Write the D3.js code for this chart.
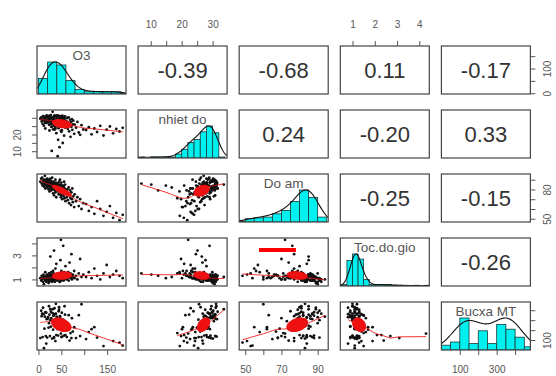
<!DOCTYPE html>
<html><head><meta charset="utf-8">
<script src="https://cdn.jsdelivr.net/npm/d3@7"></script>
<style>html,body{margin:0;padding:0;background:#fff;} svg{display:block;font-family:"Liberation Sans",Arial,sans-serif;}</style>
</head><body><svg id="c" width="556" height="376"></svg>
<script>
// ---- data (one row per observation) ----
const varNames = ["O3", "nhiet do", "Do am", "Toc.do.gio", "Bucxa MT"];
const o3 = [4,6,7,8,9,10,11,12,12,13,14,15,15,16,17,17,18,18,19,19,
 20,21,21,22,23,23,24,24,25,25,26,26,27,27,28,28,29,29,30,30,31,31,32,32,33,33,34,34,35,35,36,36,37,37,38,38,39,39,22,26,30,34,
 40,40,41,42,42,43,44,44,45,45,46,46,47,48,48,49,50,50,51,52,52,53,54,54,55,55,56,57,57,58,58,59,59,43,47,51,53,56,41,49,45,
 61,62,63,64,65,66,67,68,69,70,71,72,73,74,75,76,78,79,
 82,85,88,91,94,98,
 104,110,116,122,128,135,142,149,156,163,170,177,184];
const nhietDo = [29.5,30.2,27.8,28.9,26.4,31.0,29.1,25.3,30.6,28.2,27.1,29.8,23.6,30.9,28.4,26.9,30.4,31.4,27.6,28.8,
 30.9,30.3,27.2,28.6,31.2,25.8,29.7,22.4,28.1,30.8,26.5,29.4,31.6,27.9,24.7,29.9,24.6,10.2,30.1,26.2,28.7,33.6,23.1,29.2,27.4,30.5,25.1,28.9,31.4,22.9,30.7,27.0,23.5,24.3,31.1,26.8,29.0,20.8,30.0,28.0,27.5,29.5,
 28.4,30.6,25.7,29.1,7.0,27.3,31.0,23.8,31.2,26.1,30.2,12.4,29.4,27.7,24.9,30.8,28.2,21.6,29.8,26.6,31.3,27.9,29.0,25.4,30.4,28.6,19.3,29.6,27.1,30.9,24.2,28.0,26.3,16.8,30.0,22.6,14.9,29.3,31.5,22.1,27.6,
 28.1,25.5,29.9,23.4,27.2,30.3,21.9,26.7,28.8,18.6,27.4,24.6,29.2,22.8,26.0,28.3,20.4,25.9,
 24.1,27.5,21.2,19.8,25.6,23.0,
 22.7,24.4,20.1,23.6,21.5,25.2,19.4,22.9,24.8,20.7,23.3,21.8,24.0];
const doAm = [88,91,86,92,84,89,87,83,90,85,94,88,81,86,90,84,89,87,82,91,
 86,84,88,80,85,90,83,78,87,82,85,89,81,86,84,79,88,85,83,92,80,85,76,87,82,88,74,84,86,81,79,85,90,77,83,87,72,84,89,91,86,81,
 84,80,86,78,86,82,85,75,88,80,83,79,77,85,81,74,87,79,82,70,84,76,76,80,73,83,78,81,71,85,77,80,68,82,90,75,84,88,81,72,79,
 78,72,80,69,76,82,66,74,79,71,64,77,70,81,67,73,62,75,
 68,72,63,70,60,66,
 65,58,62,55,68,60,53,57,63,51,56,48.5,54];
const tocDoGio = [1.1,0.9,1.3,1.0,1.2,0.8,1.4,1.1,0.6,1.2,1.0,0.9,1.6,1.3,1.1,0.8,1.2,1.0,1.4,1.1,
 1.2,0.9,1.3,1.1,1.0,1.5,0.8,1.2,1.4,1.0,2.9,1.1,1.3,0.9,1.2,1.6,1.0,1.4,1.1,0.8,1.3,1.2,1.7,0.9,1.5,1.1,3.4,1.0,1.3,1.2,0.8,1.4,1.1,1.9,1.0,1.2,1.3,2.3,0.7,1.0,1.2,0.9,
 1.1,1.3,0.9,1.2,1.5,1.0,1.4,1.1,1.2,1.1,0.8,1.3,1.0,2.6,1.2,1.1,0.9,1.7,1.3,1.0,1.2,1.4,3.8,1.1,1.3,0.9,1.6,1.0,1.2,1.4,1.1,2.1,1.3,1.2,0.8,1.5,1.1,1.2,1.0,4.3,1.3,
 1.2,1.0,1.4,1.1,1.6,0.9,1.3,2.4,1.2,1.5,1.1,3.1,1.0,1.3,1.4,1.2,1.7,1.1,
 1.3,1.0,1.5,2.7,1.2,1.4,
 1.2,1.6,1.1,1.9,1.3,1.0,1.5,2.2,1.2,1.4,1.7,1.3,1.1];
const bucxaMT = [120,395,340,365,130,425,360,18,null,215,335,380,null,140,375,65,null,310,null,125,
 315,330,null,225,440,270,null,355,null,140,null,410,385,235,null,320,null,null,115,null,370,410,205,null,345,345,null,130,null,420,360,245,null,90,465,365,null,150,null,300,null,120,
 325,335,null,210,null,145,null,390,null,430,null,null,340,null,225,null,130,null,375,null,135,null,null,305,290,240,null,440,null,355,null,150,null,null,330,null,null,145,null,165,405,
 260,130,null,215,null,350,null,95,null,170,null,120,320,null,185,null,230,null,
 120,null,350,140,460,null,
 110,180,210,230,125,null,40,null,null,90,null,75,45];

// correlations printed in the upper panels (row by row)
const corrLabels = ["-0.39", "-0.68", "0.11", "-0.17", "0.24", "-0.20", "0.33", "-0.25", "-0.15", "-0.26"];

// histogram breaks
const o3Breaks = [0,20,40,60,80,100,120,140,160,180,200];
const nhietDoBreaks = [6,8,10,12,14,16,18,20,22,24,26,28,30,32,34];
const doAmBreaks = [45,50,55,60,65,70,75,80,85,90,95];
const tocDoGioBreaks = [0.5,0.75,1,1.25,1.5,1.75,2,2.25,2.5,2.75,3,3.25,3.5,3.75,4,4.25,4.5];
const bucxaBreaks = [0,50,100,150,200,250,300,350,400,450,500];

// axis ticks / labels
const o3Ticks = [0,50,100,150], o3BottomLabels = [0,50,150], o3RightLabels = [0,100];
const nhietDoTicks = [10,15,20,25,30], nhietDoTopLabels = [10,20,30], nhietDoLeftLabels = [10,20];
const doAmTicks = [50,60,70,80,90], doAmBottomLabels = [50,70,90], doAmRightLabels = [50,80];
const tocDoGioTicks = [1,2,3,4], tocDoGioTopLabels = [1,2,3,4], tocDoGioLeftLabels = [1,3];
const bucxaTicks = [100,200,300,400], bucxaBottomLabels = [100,300], bucxaRightLabels = [100];

// red highlight bar drawn in the Do am / Toc.do.gio panel (data units)
const markDoAm = [57.6, 78.0], markTocDoGio = [3.45];

// ---- layout ----
const PW = 89, PH = 48, X0 = 37, DX = 101.1, Y0 = 46, DY = 64;
const svg = d3.select("#c");
const vars = [o3, nhietDo, doAm, tocDoGio, bucxaMT];
const breaks = [o3Breaks, nhietDoBreaks, doAmBreaks, tocDoGioBreaks, bucxaBreaks];
const NV = vars.length;
const doms = vars.map(v => { const e = d3.extent(v.filter(d => d != null)); const p = (e[1]-e[0])*0.04; return [e[0]-p, e[1]+p]; });
const xs = doms.map((d,j) => d3.scaleLinear().domain(d).range([X0+j*DX, X0+j*DX+PW]));
const ys = doms.map((d,i) => d3.scaleLinear().domain(d).range([Y0+i*DY+PH, Y0+i*DY]));
const RED = "#ee1111";

const defs = svg.append("defs");
function clipFor(i,j){
  const id = `cp${i}_${j}`;
  defs.append("clipPath").attr("id", id).append("rect")
    .attr("x", X0+j*DX).attr("y", Y0+i*DY).attr("width", PW).attr("height", PH);
  return `url(#${id})`;
}

function lowess(xv, yv, f=2/3, iter=3){
  const n = xv.length;
  const idx = d3.range(n).sort((a,b) => xv[a]-xv[b]);
  const x = idx.map(i => xv[i]), y = idx.map(i => yv[i]);
  const r = Math.max(2, Math.min(n, Math.round(f*n)));
  let rw = new Array(n).fill(1);
  const fit = new Array(n);
  for (let it = 0; it <= iter; it++){
    for (let i = 0; i < n; i++){
      const d = x.map(v => Math.abs(v - x[i]));
      const h = d.slice().sort((a,b) => a-b)[r-1] || 1e-9;
      let sw=0, sx=0, sy=0, sxx=0, sxy=0;
      for (let j = 0; j < n; j++){
        const u = d[j]/h;
        let w = u < 1 ? Math.pow(1-u*u*u, 3) : 0;
        w *= rw[j];
        sw+=w; sx+=w*x[j]; sy+=w*y[j]; sxx+=w*x[j]*x[j]; sxy+=w*x[j]*y[j];
      }
      if (sw <= 0){ fit[i] = y[i]; continue; }
      const mx = sx/sw, my = sy/sw, vxx = sxx/sw - mx*mx;
      const b = vxx > 1e-9 ? (sxy/sw - mx*my)/vxx : 0;
      fit[i] = my + b*(x[i]-mx);
    }
    if (it === iter) break;
    const res = y.map((v,i) => Math.abs(v - fit[i]));
    const m = 6*d3.median(res);
    rw = res.map(e => { if (m <= 0) return 1; const u = e/m; return u < 1 ? (1-u*u)*(1-u*u) : 0; });
  }
  return x.map((v,i) => [v, fit[i]]);
}

function bwNrd(v){
  const s = v.slice().sort(d3.ascending);
  const iqr = d3.quantileSorted(s,0.75) - d3.quantileSorted(s,0.25);
  return 1.06*Math.min(d3.deviation(s), iqr/1.34)*Math.pow(s.length, -0.2);
}

// ---- panels ----
let ci = 0;
for (let i = 0; i < NV; i++){
  for (let j = 0; j < NV; j++){
    const px = X0 + j*DX, py = Y0 + i*DY;
    const g = svg.append("g");
    if (i === j){
      const vals = vars[i].filter(d => d != null);
      const br = breaks[i];
      const counts = br.slice(0,-1).map((b,k) => vals.filter(v => (k === 0 ? v >= b : v > b) && v <= br[k+1]).length);
      const mc = d3.max(counts);
      const yd = d3.scaleLinear().domain([0,1.5]).range([py+PH, py]);
      const cg = g.append("g").attr("clip-path", clipFor(i,j));
      cg.selectAll("rect").data(counts).join("rect")
        .attr("x", (c,k) => xs[j](br[k])).attr("width", (c,k) => xs[j](br[k+1]) - xs[j](br[k]))
        .attr("y", c => yd(c/mc)).attr("height", c => yd(0) - yd(c/mc))
        .attr("fill", "#00f0f0").attr("stroke", "#1a3a3a").attr("stroke-width", 0.8);
      const bw = bwNrd(vals)*1.2;
      const grid = d3.range(0, 201).map(k => doms[i][0] + (doms[i][1]-doms[i][0])*k/200);
      const dens = grid.map(t => d3.sum(vals, v => Math.exp(-0.5*((t-v)/bw)**2)));
      const md = d3.max(dens);
      cg.append("path").datum(grid.map((t,k) => [t, dens[k]/md]))
        .attr("fill","none").attr("stroke","#111").attr("stroke-width",1.1)
        .attr("d", d3.line().x(d => xs[j](d[0])).y(d => yd(d[1])));
      g.append("text").attr("x", px+PW/2).attr("y", py+14).attr("text-anchor","middle")
        .attr("font-size", 13.5).attr("fill", "#555").text(varNames[i]);
    } else if (i < j){
      g.append("text").attr("x", px+PW/2).attr("y", py+PH/2).attr("dy","0.36em")
        .attr("text-anchor","middle").attr("font-size", 22).attr("fill","#333")
        .text(corrLabels[ci++]);
    } else {
      const xv = [], yv = [];
      for (let k = 0; k < o3.length; k++){
        if (vars[j][k] != null && vars[i][k] != null){ xv.push(vars[j][k]); yv.push(vars[i][k]); }
      }
      const cg = g.append("g").attr("clip-path", clipFor(i,j));
      cg.selectAll("circle").data(xv).join("circle")
        .attr("cx", (d,k) => xs[j](xv[k])).attr("cy", (d,k) => ys[i](yv[k]))
        .attr("r", 1.4).attr("fill", "#111");
      const lw = lowess(xv, yv);
      cg.append("path").datum(lw).attr("fill","none").attr("stroke", RED).attr("stroke-width", 1).attr("opacity",0.85)
        .attr("d", d3.line().x(d => xs[j](d[0])).y(d => ys[i](d[1])));
      // correlation ellipse
      const mx = d3.mean(xv), my = d3.mean(yv), sx = d3.deviation(xv), sy = d3.deviation(yv);
      const r = d3.sum(xv, (v,k) => (v-mx)*(yv[k]-my)) / ((xv.length-1)*sx*sy);
      const th = r >= 0 ? 1/Math.SQRT2 : -1/Math.SQRT2;
      const a = Math.sqrt(1+r), b = Math.sqrt(Math.max(0,1-r)), K = 0.55;
      const ell = d3.range(0, 52).map(k => {
        const t = k*2*Math.PI/51, c = Math.cos(t), s = Math.sin(t);
        const ex = c*a*th + s*b*(-th), ey = c*a*th + s*b*th;
        return [mx + K*ex*sx, my + K*ey*sy];
      });
      cg.append("path").datum(ell).attr("fill", RED).attr("stroke", RED).attr("stroke-width", 1.5)
        .attr("d", d3.line().x(d => xs[j](d[0])).y(d => ys[i](d[1])));
      cg.append("circle").attr("cx", xs[j](mx)).attr("cy", ys[i](my)).attr("r", 3).attr("fill", RED);
    }
    g.append("rect").attr("x", px).attr("y", py).attr("width", PW).attr("height", PH)
      .attr("fill","none").attr("stroke","#444").attr("stroke-width",1.2);
  }
}

// red highlight bar
svg.append("line")
  .attr("x1", xs[2](markDoAm[0])).attr("x2", xs[2](markDoAm[1]))
  .attr("y1", ys[3](markTocDoGio[0])).attr("y2", ys[3](markTocDoGio[0]))
  .attr("stroke", "#ff0000").attr("stroke-width", 4);

// ---- axes ----
function drawAxis(orient, scale, ticks, labels, offset){
  const gen = {top: d3.axisTop, bottom: d3.axisBottom, left: d3.axisLeft, right: d3.axisRight}[orient];
  const ax = gen(scale).tickValues(ticks).tickSize(5)
    .tickPadding(orient === "top" ? 13 : 11)
    .tickFormat(d => labels.includes(d) ? String(d) : "");
  const tr = (orient === "top" || orient === "bottom") ? `translate(0,${offset})` : `translate(${offset},0)`;
  const g = svg.append("g").attr("transform", tr).call(ax);
  g.select(".domain").remove();
  g.selectAll("line").attr("stroke", "#555");
  g.attr("font-family", null).attr("font-size", null);
  g.selectAll("text").attr("fill", "#555").attr("font-size", 10);
  if (orient === "left" || orient === "right"){
    const bx = orient === "left" ? -16.5 : 21;
    g.selectAll("text").attr("x", 0).attr("y", 0).attr("dy", 0)
      .attr("text-anchor", "middle").attr("transform", `translate(${bx},0) rotate(-90)`);
  }
}
const rowBottom = i => Y0 + i*DY + PH, colRight = j => X0 + j*DX + PW;
drawAxis("top", xs[1], nhietDoTicks, nhietDoTopLabels, Y0);
drawAxis("top", xs[3], tocDoGioTicks, tocDoGioTopLabels, Y0);
drawAxis("bottom", xs[0], o3Ticks, o3BottomLabels, rowBottom(4));
drawAxis("bottom", xs[2], doAmTicks, doAmBottomLabels, rowBottom(4));
drawAxis("bottom", xs[4], bucxaTicks, bucxaBottomLabels, rowBottom(4));
drawAxis("left", ys[1], nhietDoTicks, nhietDoLeftLabels, X0);
drawAxis("left", ys[3], tocDoGioTicks, tocDoGioLeftLabels, X0);
drawAxis("right", ys[0], o3Ticks, o3RightLabels, colRight(4));
drawAxis("right", ys[2], doAmTicks, doAmRightLabels, colRight(4));
drawAxis("right", ys[4], bucxaTicks, bucxaRightLabels, colRight(4));
</script></body></html>
